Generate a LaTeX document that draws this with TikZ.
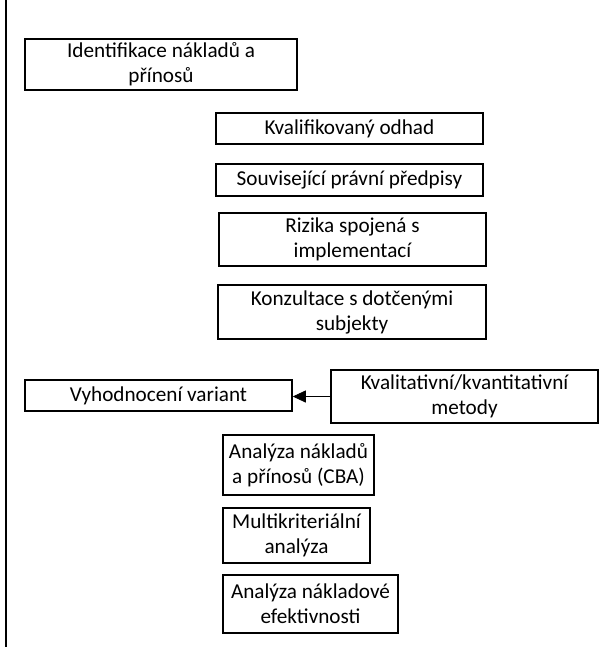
\documentclass[tikz,border=0pt]{standalone}
\usepackage{fontspec}
\setmainfont{Carlito}
\usetikzlibrary{arrows.meta}

\tikzset{
  box/.style={draw, line width=1.5pt, align=center, inner sep=0pt,
    font=\fontsize{21.2}{25}\selectfont},
}

\begin{document}
\begin{tikzpicture}[x=1pt,y=-1pt]
\useasboundingbox (0,0) rectangle (609,647);
\draw[line width=2pt] (6,0) -- (6,647);

\node[box, minimum width=272, minimum height=51] (ident) at (161,64.5) {Identifikace nákladů a\\přínosů};

\node[box, minimum width=267, minimum height=31] (kval) at (349.5,128.5) {Kvalifikovaný odhad};
\node[box, minimum width=267, minimum height=32] (souv) at (349.5,180) {Související právní předpisy};
\node[box, minimum width=267, minimum height=53] (rizika) at (352.5,239.5) {Rizika spojená s\\implementací};
\node[box, minimum width=268, minimum height=54] (konz) at (352,312) {Konzultace s dotčenými\\subjekty};

\node[box, minimum width=267, minimum height=31] (vyhod) at (158.5,395.5) {Vyhodnocení variant};
\node[box, minimum width=267, minimum height=53] (metody) at (464.5,396.5) {Kvalitativní/kvantitativní\\metody};
\draw[line width=0.8pt, -{Triangle[length=13pt,width=12pt]}] (metody.west) -- (metody.west -| vyhod.east);

\node[box, minimum width=151, minimum height=60] (cba) at (298.5,465) {Analýza nákladů\\a přínosů (CBA)};
\node[box, minimum width=147, minimum height=55] (multi) at (296.5,535.5) {Multikriteriální\\analýza};
\node[box, minimum width=175, minimum height=58] (efekt) at (310.5,604) {Analýza nákladové\\efektivnosti};

\end{tikzpicture}
\end{document}
